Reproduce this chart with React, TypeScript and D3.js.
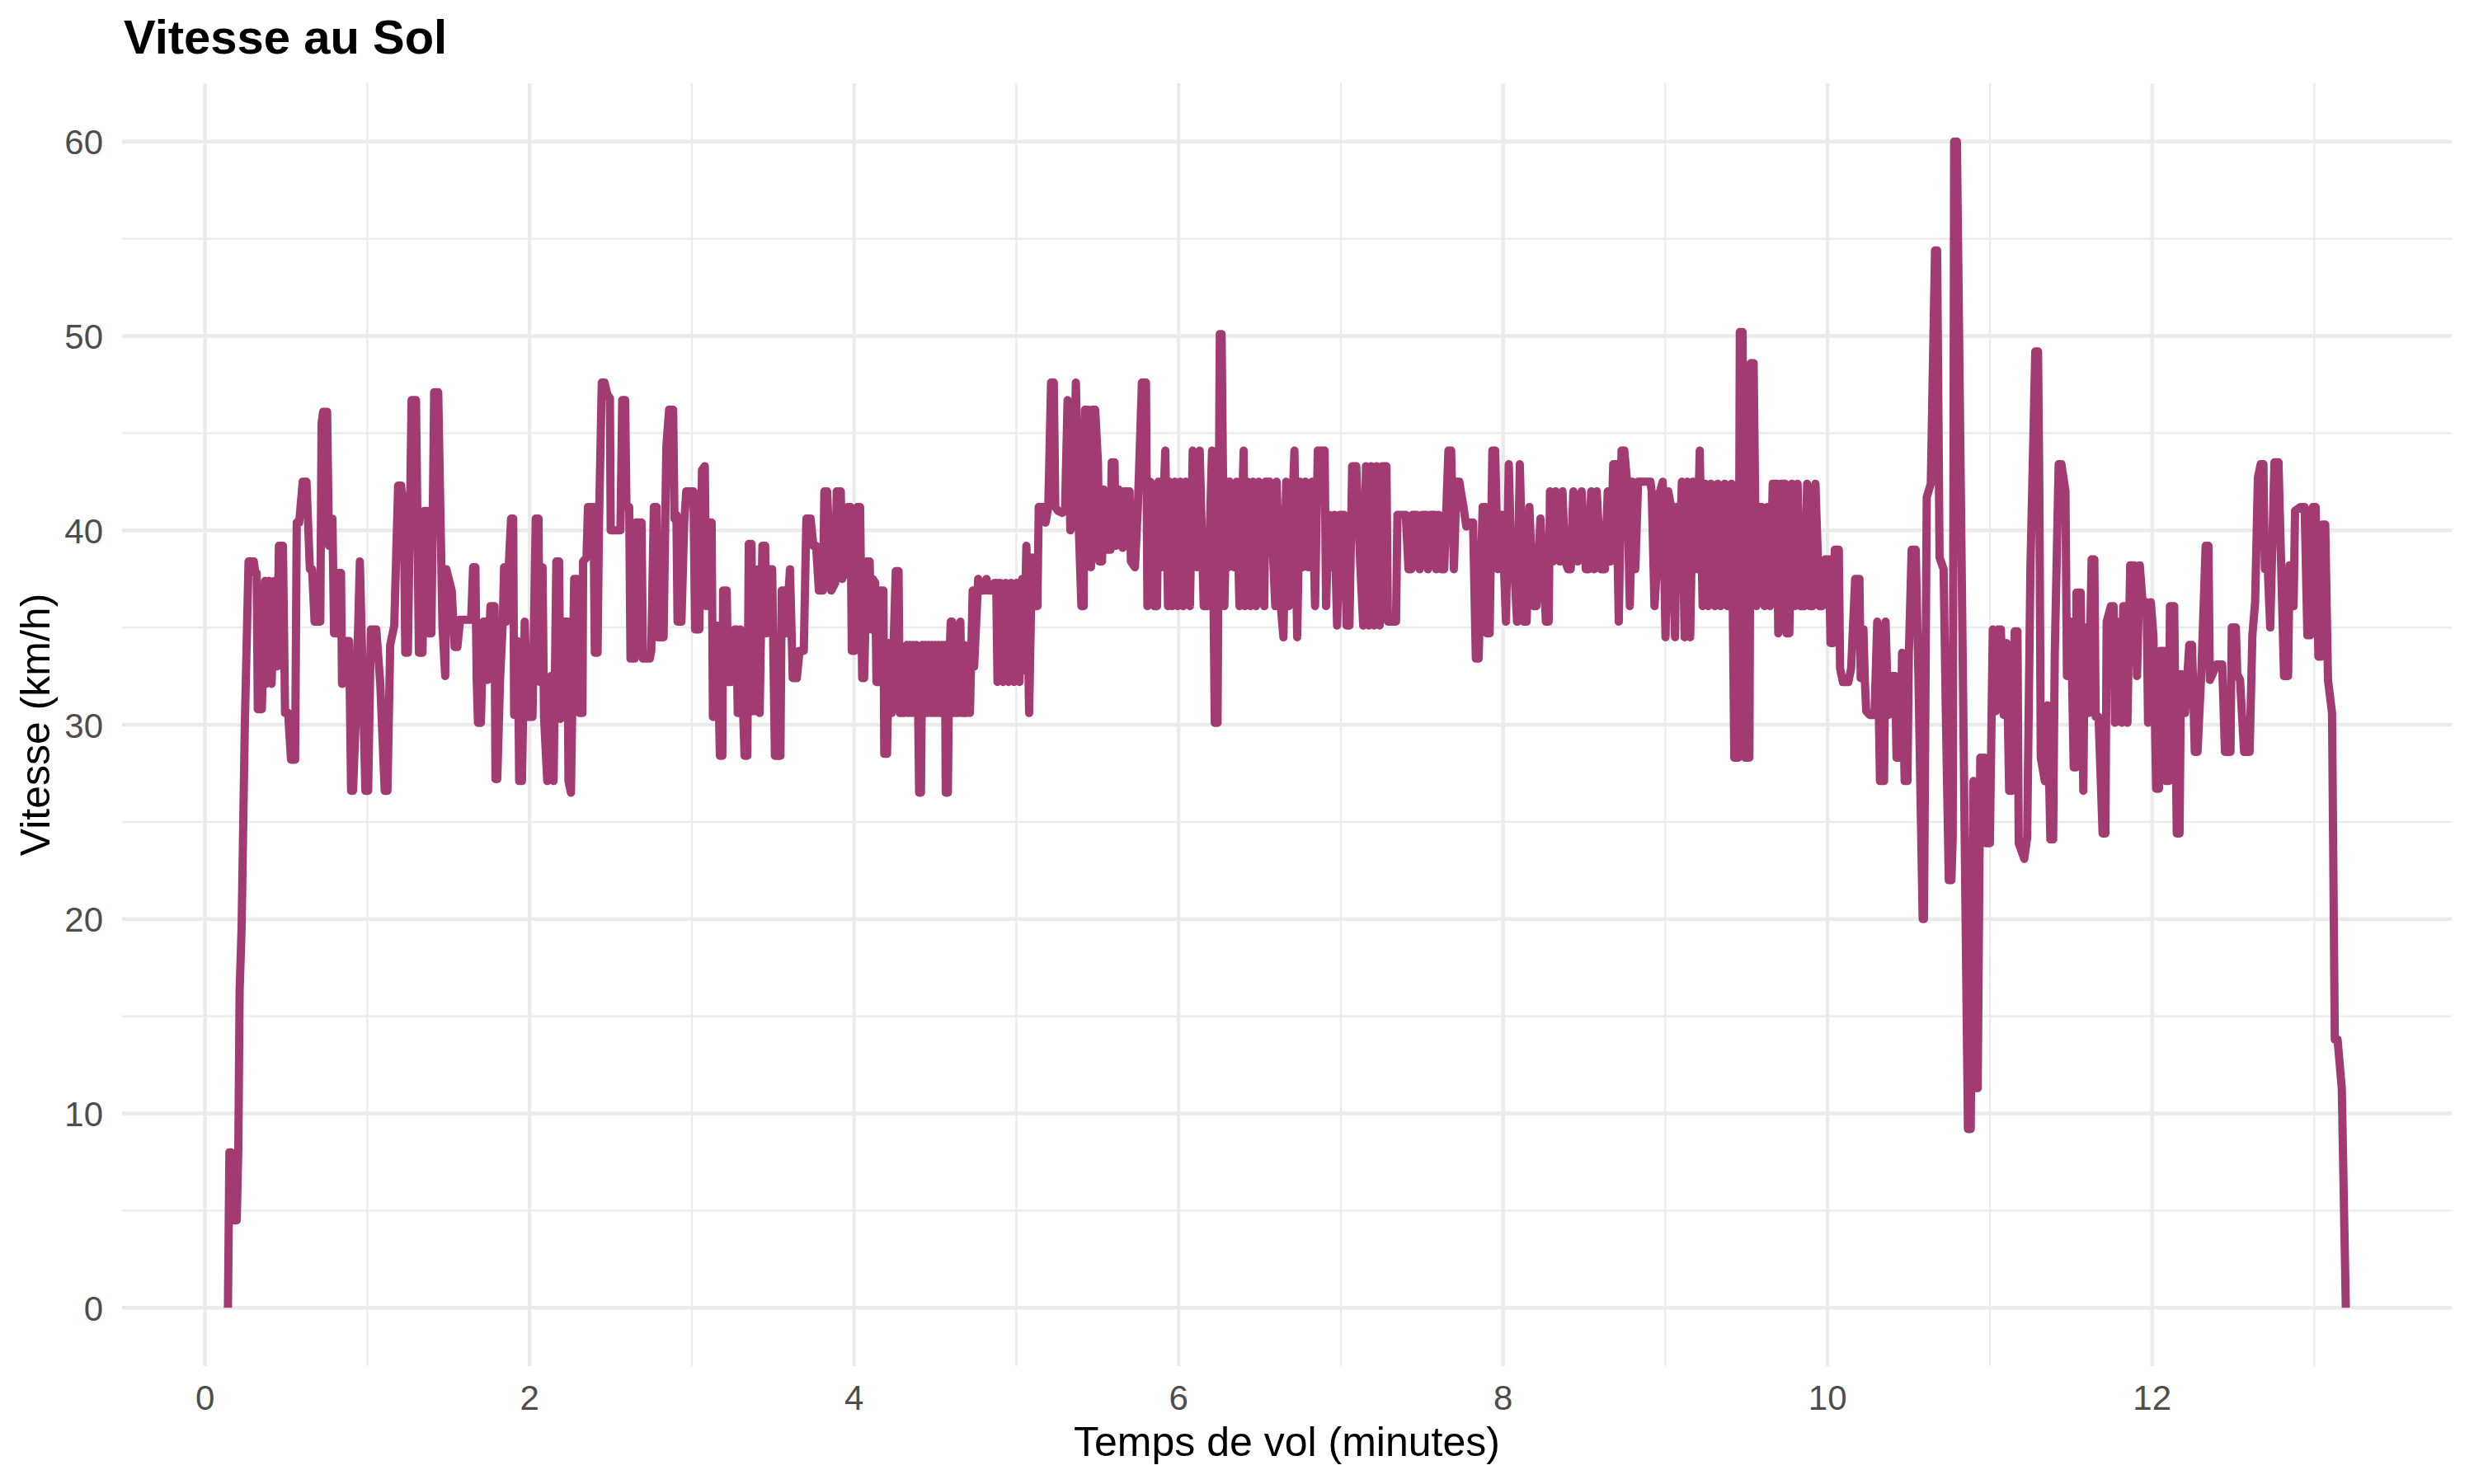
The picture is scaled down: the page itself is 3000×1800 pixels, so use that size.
import React from "react";
import * as d3 from "d3";

// [minute, km/h] samples, split by flight phase
const takeoff: [number, number][] = [
  [0.141, 0], [0.15, 8.0], [0.16, 8.0], [0.18, 4.5], [0.195, 4.5], [0.205, 8.2], [0.213, 16.3], [0.225, 19.5], [0.245, 30], [0.268, 38.4], [0.3, 38.4], [0.31, 37.8], [0.318, 37.8], [0.325, 30.8], [0.35, 30.8], [0.37, 37.4], [0.378, 32.1], [0.395, 37.4], [0.41, 32.1], [0.428, 37.4], [0.445, 33.0], [0.455, 39.2], [0.48, 39.2], [0.493, 30.6], [0.512, 30.6], [0.53, 28.2], [0.555, 28.2], [0.565, 40.4], [0.58, 40.4], [0.602, 42.5], [0.625, 42.5], [0.646, 38.0], [0.66, 38.0], [0.675, 35.3], [0.71, 35.3], [0.718, 45.5], [0.728, 46.1], [0.752, 46.1], [0.764, 39.2], [0.785, 40.6], [0.795, 34.7], [0.812, 34.7], [0.82, 37.8], [0.838, 37.8], [0.844, 32.1], [0.865, 34.3], [0.888, 34.3], [0.9, 26.6], [0.912, 26.6], [0.93, 30.6], [0.954, 38.4], [0.988, 26.6], [1.005, 26.6], [1.022, 34.9], [1.055, 34.9], [1.08, 32.1], [1.107, 26.6], [1.124, 26.6], [1.141, 34.1], [1.166, 35.1], [1.19, 42.3], [1.208, 42.3], [1.225, 41.0], [1.234, 33.7], [1.25, 33.7], [1.273, 46.7], [1.3, 46.7], [1.318, 33.7], [1.34, 33.7], [1.352, 41.0], [1.37, 41.0], [1.378, 34.7], [1.395, 34.7], [1.412, 47.1], [1.437, 47.1], [1.463, 35.1], [1.48, 32.5],
];

const climb: [number, number][] = [
  [1.487, 38.0], [1.52, 36.9], [1.538, 34.0], [1.555, 34.0], [1.572, 35.4], [1.64, 35.4], [1.652, 38.1], [1.666, 38.1], [1.674, 32.4], [1.682, 30.1], [1.7, 30.1], [1.716, 35.3], [1.733, 35.3], [1.742, 32.3], [1.759, 36.1], [1.784, 36.1], [1.79, 27.2], [1.801, 27.2], [1.818, 32.3], [1.835, 35.3], [1.843, 38.1], [1.855, 35.3], [1.886, 40.6], [1.899, 40.6], [1.905, 30.5], [1.928, 34.3], [1.936, 27.1], [1.953, 27.1], [1.97, 35.3], [1.987, 30.4], [2.018, 30.4], [2.038, 40.6], [2.055, 40.6], [2.063, 32.2], [2.08, 38.1], [2.089, 30.4], [2.109, 27.1], [2.131, 32.5], [2.148, 27.1], [2.165, 38.4], [2.182, 38.4], [2.19, 30.3], [2.216, 35.3], [2.233, 35.3], [2.24, 27.1], [2.255, 26.5], [2.275, 37.5], [2.292, 37.5], [2.309, 30.6], [2.326, 30.6], [2.33, 38.4], [2.351, 38.6], [2.36, 41.2], [2.394, 41.2], [2.402, 33.7], [2.419, 33.7], [2.428, 40.4], [2.445, 47.6], [2.462, 47.6], [2.479, 47.0], [2.495, 46.8], [2.5, 40.0], [2.56, 40.0], [2.571, 46.7], [2.589, 46.7], [2.597, 41.2], [2.614, 41.2], [2.622, 33.4], [2.648, 33.4], [2.656, 40.4], [2.69, 40.4], [2.699, 33.4], [2.741, 33.4], [2.75, 33.8], [2.766, 41.2], [2.783, 41.2], [2.79, 34.5], [2.826, 34.5], [2.843, 44.3], [2.86, 46.2], [2.885, 46.2], [2.893, 40.6], [2.905, 40.8], [2.912, 35.3], [2.936, 35.3], [2.953, 40.4], [2.966, 42.0], [3.01, 42.0], [3.02, 34.9], [3.046, 34.9], [3.063, 43.1], [3.08, 43.3], [3.088, 36.1], [3.105, 40.4], [3.122, 40.4], [3.13, 30.4], [3.147, 30.4], [3.156, 35.1], [3.173, 28.4], [3.188, 28.4], [3.193, 36.9], [3.215, 36.9], [3.224, 32.2], [3.241, 32.2], [3.266, 34.9], [3.275, 34.9], [3.283, 30.6], [3.3, 34.9], [3.325, 28.4], [3.342, 28.4], [3.351, 39.3], [3.368, 39.3], [3.376, 30.7], [3.402, 30.7], [3.41, 38.0],
];

const lowPhase: [number, number][] = [
  [3.418, 30.6], [3.435, 39.2], [3.452, 39.2], [3.461, 34.7], [3.478, 38.0], [3.495, 38.0], [3.512, 28.4], [3.546, 28.4], [3.554, 36.9], [3.571, 36.9], [3.58, 34.7], [3.605, 38.0], [3.622, 32.4], [3.647, 32.4], [3.664, 33.8], [3.69, 33.8], [3.706, 40.6], [3.732, 40.6], [3.749, 39.2], [3.766, 39.2], [3.783, 36.9], [3.808, 36.9], [3.817, 42.0], [3.834, 42.0], [3.859, 36.9], [3.884, 37.3], [3.893, 42.0], [3.918, 42.0], [3.927, 37.5], [3.944, 37.9], [3.961, 41.2], [3.978, 41.2], [3.986, 33.8], [4.003, 33.8], [4.02, 41.2], [4.037, 41.2], [4.05, 32.4], [4.062, 32.4], [4.079, 38.4], [4.096, 38.4], [4.105, 34.9], [4.115, 37.5], [4.13, 37.3], [4.138, 32.2], [4.155, 32.2], [4.164, 36.9], [4.181, 36.9], [4.186, 28.5], [4.203, 28.5], [4.215, 34.2], [4.231, 30.6], [4.257, 37.9], [4.274, 37.9], [4.282, 30.6], [4.308, 30.6], [4.325, 34.1], [4.335, 30.6], [4.345, 34.1], [4.355, 30.6], [4.365, 34.1], [4.375, 30.6], [4.385, 34.1], [4.395, 30.6], [4.401, 26.5], [4.412, 26.5], [4.42, 34.1], [4.43, 30.6], [4.44, 34.1], [4.45, 30.6], [4.46, 34.1], [4.47, 30.6], [4.48, 34.1], [4.49, 30.6], [4.5, 34.1], [4.51, 30.6], [4.52, 34.1], [4.53, 30.6], [4.54, 34.1], [4.55, 30.6], [4.56, 34.1], [4.565, 26.5], [4.578, 26.5], [4.586, 33.0], [4.596, 35.3], [4.604, 35.3], [4.612, 30.6], [4.621, 30.6], [4.628, 34.9], [4.638, 30.6], [4.655, 35.3], [4.662, 30.6], [4.672, 30.6], [4.68, 34.1], [4.69, 30.6], [4.7, 33.9], [4.714, 30.6], [4.731, 36.9], [4.74, 33.0], [4.765, 37.5], [4.782, 36.9], [4.8, 36.9], [4.808, 37.3], [4.816, 37.5], [4.833, 36.9], [4.85, 36.9], [4.867, 37.3], [4.876, 37.3], [4.884, 32.2], [4.9, 37.3], [4.918, 32.2], [4.935, 37.3], [4.952, 32.2], [4.968, 37.3], [4.985, 32.2], [5.002, 37.3], [5.019, 32.2], [5.036, 37.5], [5.045, 32.8], [5.062, 39.2], [5.079, 30.6], [5.096, 38.6], [5.113, 36.1], [5.13, 36.1],
];

const cruise: [number, number][] = [
  [5.138, 41.2], [5.172, 41.2], [5.18, 40.4], [5.197, 41.2], [5.214, 47.6], [5.231, 47.6], [5.24, 41.2], [5.257, 41.0], [5.282, 40.9], [5.3, 41.0], [5.316, 46.7], [5.333, 40.0], [5.35, 40.4], [5.367, 47.6], [5.384, 40.4], [5.401, 36.1], [5.415, 36.1], [5.423, 46.2], [5.443, 46.2], [5.46, 38.1], [5.469, 46.2], [5.486, 46.2], [5.503, 43.5], [5.511, 38.4], [5.528, 38.4], [5.537, 42.1], [5.554, 39.0], [5.58, 39.0], [5.588, 43.5], [5.605, 43.5], [5.613, 39.2], [5.63, 42.1], [5.655, 39.1], [5.664, 42.0], [5.698, 42.0], [5.706, 38.4], [5.731, 38.1], [5.749, 41.2], [5.774, 47.6], [5.799, 47.6], [5.808, 36.1], [5.825, 42.5], [5.85, 36.1], [5.867, 36.1], [5.875, 42.5], [5.892, 38.1], [5.918, 44.1], [5.935, 36.1], [5.943, 42.5], [5.96, 36.1], [5.977, 42.5], [5.994, 36.1], [6.011, 42.5], [6.028, 36.1], [6.045, 42.5], [6.07, 36.1], [6.087, 44.1], [6.113, 38.1], [6.13, 44.1], [6.155, 36.1], [6.18, 36.1], [6.206, 44.1], [6.223, 30.1], [6.24, 30.1], [6.254, 50.1], [6.265, 50.1], [6.282, 36.1], [6.299, 42.5], [6.308, 38.1], [6.316, 42.5], [6.342, 38.1], [6.358, 42.5], [6.375, 36.1], [6.401, 44.1], [6.409, 36.1], [6.426, 42.5], [6.443, 36.1], [6.46, 42.5], [6.477, 36.1], [6.494, 42.5], [6.511, 38.1], [6.528, 36.1], [6.536, 42.5], [6.562, 42.5], [6.596, 36.1], [6.604, 42.5], [6.63, 36.1], [6.646, 34.5], [6.663, 42.5], [6.68, 36.1], [6.714, 44.1], [6.731, 34.5], [6.748, 42.5], [6.765, 38.1], [6.782, 42.5], [6.799, 38.1], [6.824, 42.5], [6.841, 36.1], [6.858, 44.1], [6.9, 44.1], [6.909, 36.1], [6.926, 40.8], [6.943, 38.1], [6.96, 40.8], [6.977, 35.1], [6.994, 40.8], [7.019, 40.8], [7.036, 35.1], [7.053, 35.1], [7.07, 43.3], [7.095, 43.3], [7.12, 38.2], [7.138, 35.1], [7.155, 43.3], [7.172, 35.1], [7.188, 43.3], [7.205, 35.1], [7.222, 43.3], [7.239, 35.1], [7.256, 43.3], [7.281, 43.3],
];

const lateCruise: [number, number][] = [
  [7.29, 35.3], [7.34, 35.3], [7.349, 40.8], [7.4, 40.8], [7.417, 38.0], [7.434, 38.0], [7.442, 40.8], [7.468, 40.8], [7.485, 38.0], [7.502, 40.8], [7.527, 40.8], [7.536, 38.0], [7.553, 40.8], [7.578, 40.8], [7.587, 38.0], [7.603, 40.8], [7.62, 38.0], [7.637, 38.0], [7.663, 44.1], [7.68, 44.1], [7.697, 38.0], [7.713, 42.5], [7.73, 42.5], [7.756, 41.2], [7.773, 40.2], [7.798, 40.4], [7.815, 40.4], [7.832, 33.4], [7.849, 33.4], [7.874, 41.2], [7.891, 41.2], [7.9, 34.7], [7.917, 34.7], [7.934, 44.1], [7.951, 44.1], [7.968, 38.0], [7.976, 40.8], [7.993, 40.8], [8.018, 35.3], [8.035, 43.4], [8.052, 38.0], [8.069, 38.0], [8.086, 35.3], [8.103, 43.4], [8.128, 35.3], [8.145, 35.3], [8.162, 41.2], [8.188, 36.1], [8.205, 36.1], [8.23, 40.6], [8.247, 38.0], [8.264, 35.3], [8.281, 35.3], [8.289, 42.0], [8.306, 38.4], [8.323, 42.0], [8.349, 38.4], [8.366, 42.0], [8.383, 38.4], [8.4, 38.0], [8.417, 38.0], [8.433, 42.0], [8.459, 38.4], [8.484, 42.0], [8.51, 38.0], [8.527, 38.0], [8.543, 42.0], [8.56, 38.0], [8.577, 42.0], [8.603, 38.0], [8.628, 38.0], [8.645, 42.0], [8.662, 38.4], [8.679, 43.4], [8.696, 43.4], [8.713, 35.3], [8.73, 44.1], [8.747, 44.1], [8.764, 42.5], [8.781, 36.1], [8.798, 42.5], [8.815, 38.0], [8.832, 42.5], [8.857, 42.5], [8.882, 42.5], [8.908, 42.5], [8.916, 42.0], [8.933, 36.1], [8.95, 38.4], [8.967, 42.0], [8.984, 42.5], [9.001, 34.5], [9.018, 42.0], [9.035, 41.2], [9.06, 34.5], [9.069, 41.2], [9.086, 38.4], [9.102, 42.5], [9.119, 34.5], [9.136, 42.5], [9.153, 34.5], [9.17, 42.5], [9.195, 38.0], [9.212, 44.1], [9.23, 36.1], [9.247, 42.4], [9.264, 36.1], [9.281, 42.4], [9.305, 36.1], [9.324, 42.4], [9.34, 36.1], [9.366, 42.4], [9.383, 36.1], [9.408, 42.4], [9.425, 28.3], [9.45, 28.3], [9.459, 50.2], [9.476, 50.2], [9.493, 28.3], [9.518, 28.3], [9.527, 48.6], [9.544, 48.6], [9.561, 36.1], [9.569, 41.2], [9.595, 41.2], [9.612, 36.1], [9.628, 41.2], [9.645, 36.1], [9.662, 42.4], [9.687, 42.4], [9.696, 34.7], [9.713, 42.4], [9.738, 42.4], [9.747, 34.7], [9.764, 34.7], [9.781, 42.4], [9.798, 36.1], [9.815, 42.4], [9.832, 36.1], [9.857, 36.1], [9.874, 42.4], [9.891, 36.1], [9.908, 36.1], [9.925, 42.4], [9.95, 36.1], [9.967, 36.1],
];

const turbulence: [number, number][] = [
  [9.984, 38.5], [10.009, 38.5], [10.018, 34.2], [10.035, 34.2], [10.044, 39.0], [10.069, 39.0], [10.077, 32.9], [10.094, 32.2], [10.128, 32.2], [10.145, 32.9], [10.17, 37.5], [10.196, 37.5], [10.204, 32.4], [10.221, 34.9], [10.229, 32.4], [10.238, 30.7], [10.26, 30.5], [10.289, 30.5], [10.306, 35.3], [10.323, 27.1], [10.348, 27.1], [10.357, 35.3], [10.374, 30.5], [10.391, 32.5], [10.416, 32.5], [10.425, 28.3], [10.45, 28.3], [10.459, 33.7], [10.475, 27.1], [10.492, 27.1], [10.501, 33.7], [10.518, 39.0], [10.543, 39.0], [10.56, 32.4], [10.586, 20.0], [10.594, 20.0], [10.611, 41.7], [10.636, 42.4], [10.662, 54.4], [10.675, 54.4], [10.69, 38.6], [10.715, 38.0], [10.73, 30.0], [10.747, 22.0], [10.763, 22.0], [10.771, 24.2], [10.78, 60.0], [10.797, 60.0], [10.865, 9.2], [10.882, 9.2], [10.899, 27.1], [10.916, 11.3], [10.925, 11.3], [10.941, 28.3], [10.967, 28.3], [10.975, 23.9], [11.0, 23.9], [11.018, 34.9], [11.035, 30.7], [11.051, 34.9], [11.068, 34.9], [11.085, 30.5], [11.103, 34.2], [11.119, 26.6], [11.136, 26.6], [11.153, 34.8], [11.17, 34.8], [11.178, 23.9], [11.212, 23.1], [11.23, 24.2], [11.25, 38.0], [11.28, 49.2], [11.297, 49.2], [11.305, 42.0], [11.314, 28.3], [11.339, 27.1], [11.356, 31.0], [11.373, 24.1], [11.39, 24.1], [11.4, 33.6], [11.424, 43.4], [11.441, 43.4], [11.466, 42.0], [11.475, 32.5], [11.5, 35.3], [11.517, 27.8], [11.53, 27.8], [11.534, 36.8], [11.56, 36.8], [11.576, 26.6], [11.585, 35.0], [11.61, 30.6], [11.627, 38.5], [11.644, 38.5], [11.652, 30.4], [11.67, 30.4], [11.695, 24.4], [11.712, 24.4],
];

const landing: [number, number][] = [
  [11.72, 35.3], [11.746, 36.1], [11.763, 36.1], [11.771, 30.1], [11.788, 35.3], [11.814, 30.1], [11.822, 36.1], [11.831, 36.1], [11.848, 30.1], [11.865, 38.2], [11.89, 38.2], [11.907, 32.5], [11.924, 38.2], [11.941, 36.3], [11.966, 36.3], [11.975, 30.1], [11.992, 36.3], [12.008, 34.6], [12.025, 26.7], [12.042, 26.7], [12.051, 33.8], [12.076, 33.8], [12.085, 27.1], [12.102, 27.1], [12.11, 36.1], [12.136, 36.1], [12.152, 24.4], [12.169, 24.4], [12.178, 32.6], [12.203, 30.6], [12.229, 34.1], [12.246, 34.1], [12.263, 28.6], [12.28, 28.6], [12.305, 33.0], [12.33, 39.2], [12.347, 39.2], [12.356, 32.3], [12.398, 33.1], [12.432, 33.1], [12.449, 28.6], [12.483, 28.6], [12.491, 35.0], [12.516, 35.0], [12.525, 32.6], [12.542, 32.3], [12.567, 28.6], [12.601, 28.6], [12.618, 34.6], [12.635, 36.3], [12.652, 42.7], [12.669, 43.4], [12.686, 43.4], [12.695, 38.0], [12.713, 38.0], [12.728, 35.0], [12.754, 43.5], [12.779, 43.5], [12.796, 38.0], [12.813, 32.5], [12.838, 32.5], [12.847, 38.2], [12.872, 36.1], [12.881, 41.0], [12.915, 41.2], [12.94, 41.2], [12.957, 34.6], [12.974, 34.6], [12.991, 41.2], [13.008, 41.2], [13.025, 33.5], [13.042, 33.5], [13.05, 40.3], [13.067, 40.3], [13.084, 32.3], [13.109, 30.6], [13.126, 13.8], [13.143, 13.8], [13.169, 11.3], [13.194, 0],
];

const xMajorTicks = [0, 2, 4, 6, 8, 10, 12];
const xMinorTicks = [1, 3, 5, 7, 9, 11, 13];
const yMajorTicks = [0, 10, 20, 30, 40, 50, 60];
const yMinorTicks = [5, 15, 25, 35, 45, 55];

const title = "Vitesse au Sol";
const xTitle = "Temps de vol (minutes)";
const yTitle = "Vitesse (km/h)";

const W = 3000;
const H = 1800;
const panel = { left: 148, right: 2973, top: 101, bottom: 1657 };
const FONT = "'Liberation Sans', Arial, Helvetica, sans-serif";
const LINE_COLOR = "#A23B72";

export default function App() {
  const data = [...takeoff, ...climb, ...lowPhase, ...cruise, ...lateCruise, ...turbulence, ...landing];
  const [x0, x1] = d3.extent(data, (d) => d[0]) as [number, number];
  const [y0, y1] = d3.extent(data, (d) => d[1]) as [number, number];
  const xPad = (x1 - x0) * 0.05;
  const yPad = (y1 - y0) * 0.05;
  const x = d3.scaleLinear().domain([x0 - xPad, x1 + xPad]).range([panel.left, panel.right]);
  const y = d3.scaleLinear().domain([y0 - yPad, y1 + yPad]).range([panel.bottom, panel.top]);
  const line = d3
    .line<[number, number]>()
    .x((d) => x(d[0]))
    .y((d) => y(d[1]));

  return (
    <svg
      width={W}
      height={H}
      viewBox={`0 0 ${W} ${H}`}
      style={{ position: "absolute", left: 0, top: 0, background: "#fff" }}
      fontFamily={FONT}
    >
      <rect x={0} y={0} width={W} height={H} fill="#fff" />
      {yMinorTicks.map((t) => (
        <line key={`ym${t}`} x1={panel.left} x2={panel.right} y1={y(t)} y2={y(t)} stroke="#EBEBEB" strokeWidth={2.2} />
      ))}
      {xMinorTicks.map((t) => (
        <line key={`xm${t}`} x1={x(t)} x2={x(t)} y1={panel.top} y2={panel.bottom} stroke="#EBEBEB" strokeWidth={2.2} />
      ))}
      {yMajorTicks.map((t) => (
        <line key={`yM${t}`} x1={panel.left} x2={panel.right} y1={y(t)} y2={y(t)} stroke="#EBEBEB" strokeWidth={4.3} />
      ))}
      {xMajorTicks.map((t) => (
        <line key={`xM${t}`} x1={x(t)} x2={x(t)} y1={panel.top} y2={panel.bottom} stroke="#EBEBEB" strokeWidth={4.3} />
      ))}
      <path
        d={line(data) || ""}
        fill="none"
        stroke={LINE_COLOR}
        strokeWidth={10}
        strokeLinejoin="round"
        strokeLinecap="butt"
      />
      {yMajorTicks.map((t) => (
        <text key={`yl${t}`} x={125} y={y(t) + 15.5} textAnchor="end" fontSize={42} fill="#4D4D4D">
          {t}
        </text>
      ))}
      {xMajorTicks.map((t) => (
        <text key={`xl${t}`} x={x(t)} y={1710} textAnchor="middle" fontSize={42} fill="#4D4D4D">
          {t}
        </text>
      ))}
      <text x={(panel.left + panel.right) / 2} y={1766} textAnchor="middle" fontSize={50} fill="#000">
        {xTitle}
      </text>
      <text
        transform={`translate(60, ${(panel.top + panel.bottom) / 2}) rotate(-90)`}
        textAnchor="middle"
        fontSize={50}
        fill="#000"
      >
        {yTitle}
      </text>
      <text x={150} y={65} fontSize={58} fontWeight="bold" fill="#000">
        {title}
      </text>
    </svg>
  );
}
